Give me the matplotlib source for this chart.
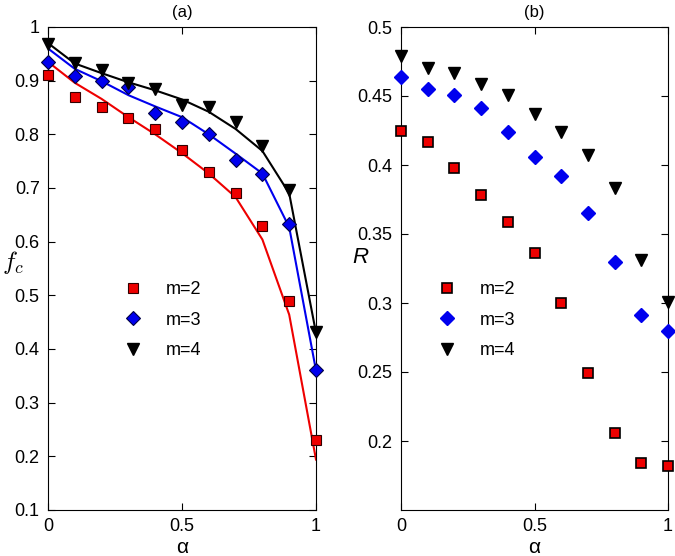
import matplotlib
matplotlib.use("Agg")
import matplotlib.pyplot as plt
import numpy as np

plt.rcParams['font.family'] = ['Liberation Sans', 'DejaVu Sans']
plt.rcParams['mathtext.fontset'] = 'cm'

alpha = [0.0, 0.1, 0.2, 0.3, 0.4, 0.5, 0.6, 0.7, 0.8, 0.9, 1.0]
labels = ['m=2', 'm=3', 'm=4']

# panel (a): simulation points
fc_m2 = [0.91, 0.87, 0.85, 0.83, 0.81, 0.77, 0.73, 0.69, 0.63, 0.49, 0.23]
fc_m3 = [0.934, 0.908, 0.899, 0.888, 0.839, 0.823, 0.80, 0.753, 0.727, 0.632, 0.361]
fc_m4 = [0.968, 0.932, 0.919, 0.896, 0.885, 0.855, 0.85, 0.823, 0.778, 0.697, 0.431]
# panel (a): theory lines
th_m2 = [0.935, 0.896, 0.866, 0.832, 0.800, 0.765, 0.727, 0.683, 0.604, 0.464, 0.194]
th_m3 = [0.96, 0.922, 0.899, 0.873, 0.852, 0.832, 0.80, 0.764, 0.727, 0.627, 0.36]
th_m4 = [0.97, 0.932, 0.914, 0.897, 0.882, 0.865, 0.842, 0.81, 0.769, 0.69, 0.43]

# panel (b)
R_m2 = [0.425, 0.417, 0.398, 0.378, 0.359, 0.336, 0.300, 0.249, 0.206, 0.184, 0.182]
R_m3 = [0.464, 0.455, 0.451, 0.441, 0.424, 0.406, 0.392, 0.365, 0.330, 0.2916, 0.280]
R_m4 = [0.479, 0.470, 0.467, 0.459, 0.451, 0.437, 0.424, 0.407, 0.383, 0.331, 0.301]

W, H = 675, 556
fig = plt.figure(figsize=(W/100, H/100), dpi=100)
axa = fig.add_axes([48/W, 1-510/H, (316-48)/W, (510-27)/H])
axb = fig.add_axes([401/W, 1-510/H, (668-401)/W, (510-27)/H])

red = '#ee0000'
blue = '#0000ee'

axa.plot(alpha, th_m2, '-', color=red, lw=1.5)
axa.plot(alpha, th_m3, '-', color=blue, lw=1.5)
axa.plot(alpha, th_m4, '-', color='black', lw=1.5)
axa.plot(alpha, fc_m2, 's', ms=6.5, mfc=red, mec='#330000', mew=0.8, ls='none',
         label=labels[0], clip_on=False, zorder=3)
axa.plot(alpha, fc_m3, 'D', ms=7, mfc=blue, mec='#000044', mew=0.8, ls='none',
         label=labels[1], clip_on=False, zorder=3)
axa.plot(alpha, fc_m4, 'v', ms=8.5, mfc='black', mec='black', ls='none',
         label=labels[2], clip_on=False, zorder=3)

axb.plot(alpha, R_m2, 's', ms=6.5, mfc=red, mec='black', mew=1.2, ls='none',
         label=labels[0], clip_on=False, zorder=3)
axb.plot(alpha, R_m3, 'D', ms=7, mfc=blue, mec=blue, ls='none',
         label=labels[1], clip_on=False, zorder=3)
axb.plot(alpha, R_m4, 'v', ms=8.5, mfc='black', mec='black', ls='none',
         label=labels[2], clip_on=False, zorder=3)

axa.set_xlim(0, 1)
axa.set_ylim(0.1, 1.0)
axa.set_xticks([0, 0.5, 1])
axa.set_xticklabels(['0', '0.5', '1'])
axa.set_yticks(np.arange(0.1, 1.01, 0.1))
axa.set_yticklabels(['0.1', '0.2', '0.3', '0.4', '0.5', '0.6', '0.7', '0.8', '0.9', '1'])

axb.set_xlim(0, 1)
axb.set_ylim(0.15, 0.5)
axb.set_xticks([0, 0.5, 1])
axb.set_xticklabels(['0', '0.5', '1'])
axb.set_yticks([0.2, 0.25, 0.3, 0.35, 0.4, 0.45, 0.5])
axb.set_yticklabels(['0.2', '0.25', '0.3', '0.35', '0.4', '0.45', '0.5'])

for ax in (axa, axb):
    ax.tick_params(direction='in', top=True, right=True, labelsize=13, length=5, width=0.8, pad=6)
    for s in ax.spines.values():
        s.set_linewidth(0.8)
    ax.set_xlabel('α', fontsize=15, labelpad=2)

axa.set_title('(a)', fontsize=12, pad=7)
axb.set_title('(b)', fontsize=12, pad=7)
axa.set_ylabel('$f_c$', fontsize=18, rotation=0, ha='left', va='center')
axa.yaxis.set_label_coords(-0.172, 0.512)
axb.set_ylabel('R', fontsize=16, rotation=0, ha='left', va='center', fontstyle='italic')
axb.yaxis.set_label_coords(-0.182, 0.522)

leg_kw = dict(frameon=False, fontsize=13, numpoints=1, handlelength=1.0,
              handletextpad=1.3, labelspacing=0.75, borderpad=0, borderaxespad=0)
axa.legend(loc='upper left', bbox_to_anchor=(0.285, 0.474), **leg_kw)
axb.legend(loc='upper left', bbox_to_anchor=(0.14, 0.474), **leg_kw)

fig.savefig('out.png', dpi=100)
